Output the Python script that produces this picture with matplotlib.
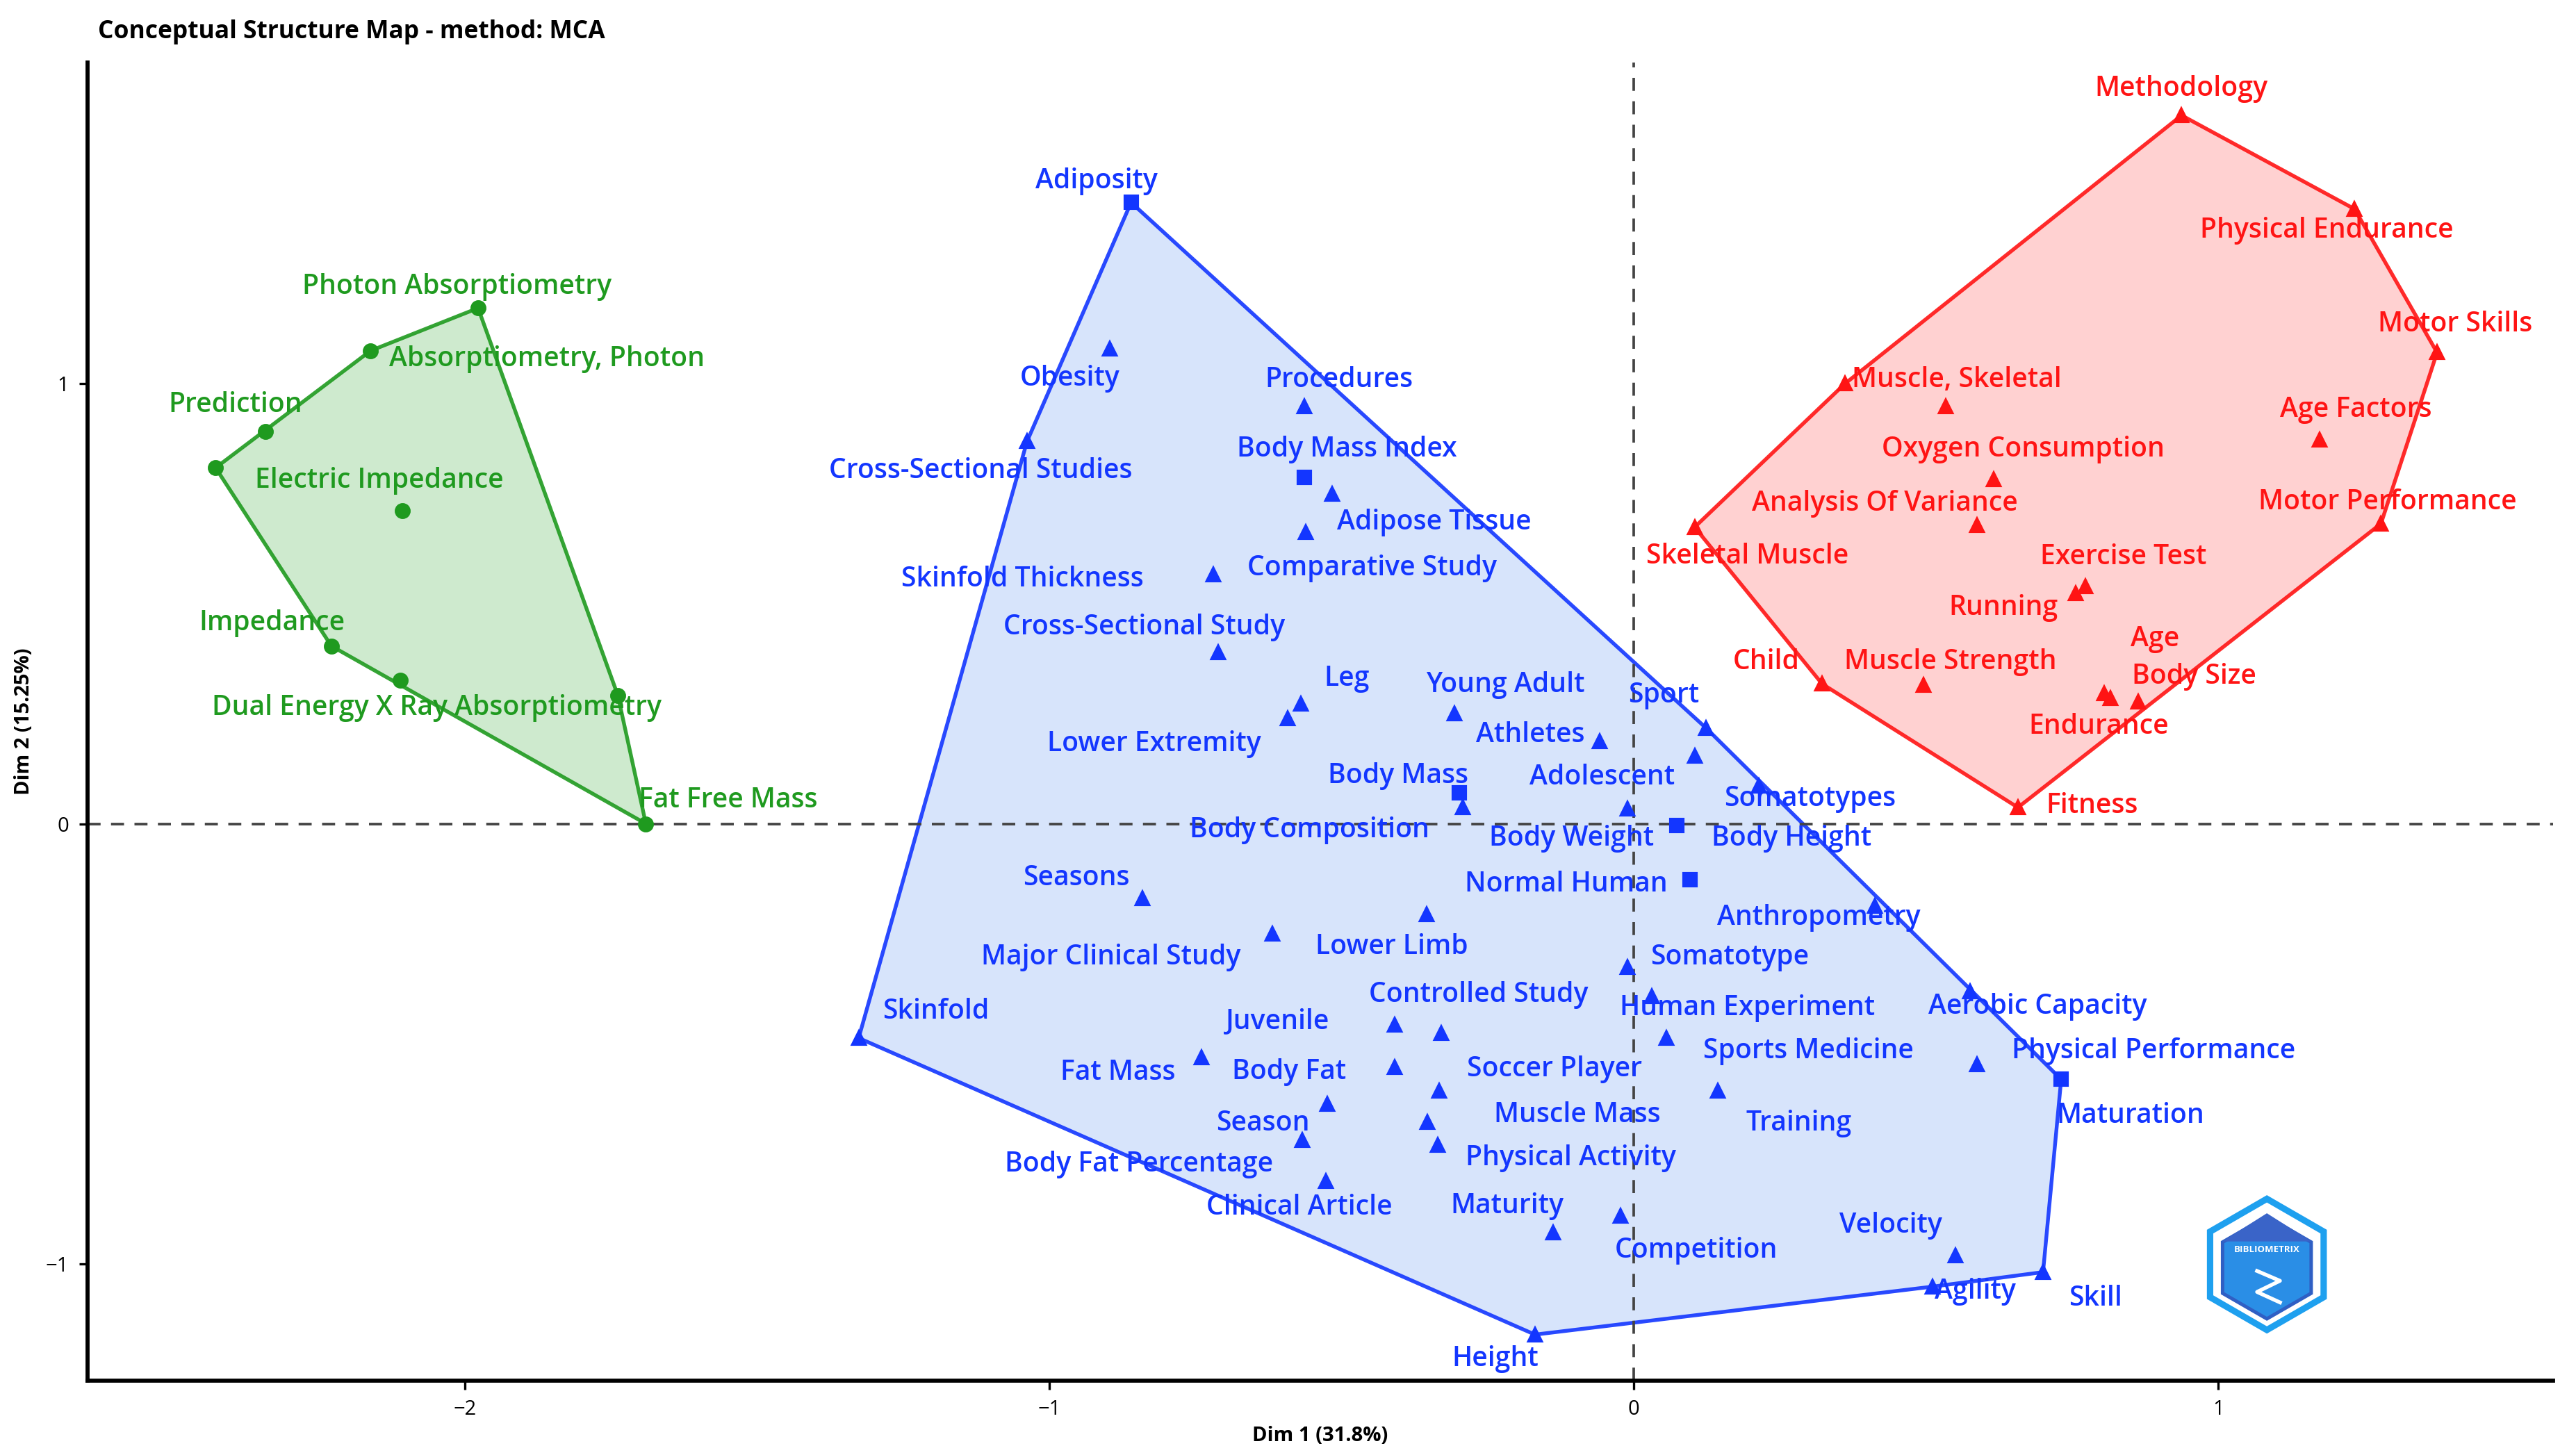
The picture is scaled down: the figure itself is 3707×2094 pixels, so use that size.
import numpy as np
import matplotlib
matplotlib.use("Agg")
from matplotlib import pyplot as plt
from matplotlib.patches import Polygon, RegularPolygon

plt.rcParams['font.family'] = ['Open Sans', 'DejaVu Sans']

# cluster 1 (green)
green_words = ["Photon Absorptiometry", "Absorptiometry, Photon", "Prediction", "",
               "Electric Impedance", "Impedance", "Dual Energy X Ray Absorptiometry", "",
               "Fat Free Mass"]
green_x = [-1.977, -2.161, -2.341, -2.426, -2.107, -2.228, -2.110, -1.738, -1.690]
green_y = [1.172, 1.075, 0.891, 0.809, 0.712, 0.404, 0.326, 0.292, 0.0]

# cluster 2 (red)
red_words = ["Methodology", "Physical Endurance", "Motor Skills", "Age Factors",
             "Motor Performance", "Muscle, Skeletal", "", "Oxygen Consumption",
             "Analysis Of Variance", "Skeletal Muscle", "Exercise Test", "Running",
             "Child", "Muscle Strength", "Age", "Body Size", "Endurance", "Fitness"]
red_x = [0.937, 1.233, 1.374, 1.173, 1.278, 0.533, 0.361, 0.615, 0.587, 0.104,
         0.773, 0.756, 0.322, 0.496, 0.804, 0.815, 0.863, 0.657]
red_y = [1.610, 1.397, 1.071, 0.873, 0.682, 0.948, 1.000, 0.783, 0.678, 0.674,
         0.539, 0.524, 0.318, 0.315, 0.296, 0.285, 0.277, 0.037]

# cluster 3 (blue)
blue_words = ["Adiposity", "Obesity", "Cross-Sectional Studies", "Procedures",
              "Body Mass Index", "Adipose Tissue", "Comparative Study",
              "Skinfold Thickness", "Cross-Sectional Study", "Leg", "Lower Extremity",
              "Young Adult", "Athletes", "Sport", "Adolescent", "Somatotypes",
              "Body Mass", "Body Composition", "Body Weight", "Body Height",
              "Normal Human", "Anthropometry", "Seasons", "Lower Limb",
              "Major Clinical Study", "Somatotype", "Skinfold", "Juvenile",
              "Controlled Study", "Human Experiment", "Sports Medicine",
              "Aerobic Capacity", "Physical Performance", "Maturation", "Fat Mass",
              "Body Fat", "Soccer Player", "Training", "Season", "Muscle Mass",
              "Body Fat Percentage", "Physical Activity", "Clinical Article",
              "Maturity", "Competition", "Velocity", "Agility", "Skill", "Height"]
blue_x = [-0.860, -0.897, -1.038, -0.564, -0.564, -0.516, -0.561, -0.719, -0.711,
          -0.570, -0.592, -0.307, -0.059, 0.124, 0.104, 0.214, -0.299, -0.293,
          -0.011, 0.073, 0.096, 0.412, -0.841, -0.355, -0.618, -0.011, -1.326,
          -0.409, -0.330, 0.031, 0.056, 0.575, 0.587, 0.731, -0.739, -0.409,
          -0.333, 0.144, -0.525, -0.353, -0.567, -0.336, -0.527, -0.138, -0.023,
          0.550, 0.511, 0.700, -0.169]
blue_y = [1.412, 1.079, 0.869, 0.948, 0.787, 0.749, 0.663, 0.566, 0.390, 0.273,
          0.240, 0.251, 0.187, 0.217, 0.154, 0.086, 0.071, 0.037, 0.034, -0.004,
          -0.127, -0.187, -0.169, -0.206, -0.251, -0.326, -0.487, -0.457, -0.476,
          -0.393, -0.487, -0.382, -0.547, -0.581, -0.532, -0.554, -0.607, -0.607,
          -0.637, -0.678, -0.719, -0.730, -0.813, -0.929, -0.891, -0.981, -1.052,
          -1.019, -1.161]
blue_square = ["Adiposity", "Body Mass Index", "Body Mass", "Body Height",
               "Normal Human", "Maturation"]

# label offsets (reference pixels, x right / y down)
green_off = [(-13, -13), (107, 5), (-18, -16), (0, 0), (-14, -18), (-36, -14),
             (22, 17), (0, 0), (50, -14)]
red_off = [(0, -16), (-17, 13), (11, -17), (22, -18), (4, -13), (7, -16), (0, 0),
           (18, -18), (-56, -13), (32, 18), (23, -18), (-44, 9), (-34, -13),
           (16, -14), (31, -33), (51, -13), (-24, 15), (45, -1)]
blue_off = [(-21, -13), (-24, 18), (-28, 18), (21, -16), (26, -17), (62, 17),
            (40, 22), (-116, 3), (-45, -15), (28, -15), (-81, 16), (31, -17),
            (-42, -4), (-26, -20), (-56, 13), (31, 8), (-37, -10), (-93, 14),
            (-34, 18), (70, 8), (-75, 3), (-34, 7), (-40, -12), (-21, 20),
            (-98, 14), (62, -6), (47, -16), (-71, -2), (23, -23), (58, 7),
            (86, 8), (41, 9), (107, -8), (42, 22), (-51, 9), (-64, 3), (70, -13),
            (49, 20), (-39, 12), (91, -4), (-99, 15), (81, 8), (-16, 16),
            (-28, -16), (46, 21), (-39, -18), (26, 3), (32, 16), (-24, 15)]

PX = 0.569  # reference pixel -> points


def convex_hull(xs, ys):
    pts = sorted(set(zip(xs, ys)))

    def cross(o, a, b):
        return (a[0] - o[0]) * (b[1] - o[1]) - (a[1] - o[1]) * (b[0] - o[0])
    lower, upper = [], []
    for p in pts:
        while len(lower) >= 2 and cross(lower[-2], lower[-1], p) <= 0:
            lower.pop()
        lower.append(p)
    for p in reversed(pts):
        while len(upper) >= 2 and cross(upper[-2], upper[-1], p) <= 0:
            upper.pop()
        upper.append(p)
    return np.array(lower[:-1] + upper[:-1])


fig = plt.figure(figsize=(3707 / 300, 2094 / 300), dpi=300)
ax = fig.add_axes([0.034, 0.051, 0.957, 0.906])

clusters = [
    (green_words, green_x, green_y, green_off, '#1f9a1f', '#c9e8c9', 'o'),
    (blue_words, blue_x, blue_y, blue_off, '#1336ff', '#d3e1fb', '^'),
    (red_words, red_x, red_y, red_off, '#ff1414', '#ffcccc', '^'),
]

for words, xs, ys, offs, col, fill, mk in clusters:
    h = convex_hull(xs, ys)
    ax.add_patch(Polygon(h, closed=True, facecolor=fill, edgecolor=col, lw=1.3,
                         alpha=0.9, zorder=1))
    for w, x, y, off in zip(words, xs, ys, offs):
        m = 's' if w in blue_square else mk
        ax.plot(x, y, marker=m, ms=4.5, color=col, ls='none', zorder=3)
        if w:
            ax.annotate(w, (x, y), xytext=(off[0] * PX, -off[1] * PX),
                        textcoords='offset points', ha='center', va='center',
                        fontsize=9.4, fontweight='semibold', color=col, zorder=4)

ax.axhline(0, color='#444444', ls=(0, (5, 4)), lw=0.9, zorder=2)
ax.axvline(0, color='#444444', ls=(0, (5, 4)), lw=0.9, zorder=2)

ax.set_xlim(-2.645, 1.572)
ax.set_ylim(-1.266, 1.730)
ax.set_xticks([-2, -1, 0, 1])
ax.set_yticks([-1, 0, 1])
ax.tick_params(labelsize=7, length=3, width=0.8)
for s in ['top', 'right']:
    ax.spines[s].set_visible(False)
for s in ['left', 'bottom']:
    ax.spines[s].set_linewidth(1.4)
ax.set_xlabel("Dim 1 (31.8%)", fontsize=7, fontweight='bold', labelpad=2)
ax.set_ylabel("Dim 2 (15.25%)", fontsize=7, fontweight='bold', labelpad=4)
fig.text(0.038, 0.978, "Conceptual Structure Map - method: MCA", fontsize=8.5,
         fontweight='bold', ha='left', va='center')

# logo
lax = fig.add_axes([0.852, 0.077, 0.056, 0.108])
lax.set_xlim(-1.1, 1.1)
lax.set_ylim(-1.1, 1.1)
lax.set_aspect('equal')
lax.axis('off')
lax.add_patch(RegularPolygon((0, 0), 6, radius=1.0, facecolor='white',
                             edgecolor='#1ea0ef', lw=2.2))
lax.add_patch(RegularPolygon((0, -0.05), 6, radius=0.78, facecolor='#2a8ee6',
                             edgecolor='#2f5fc4', lw=1.2))
lax.add_patch(Polygon([[-0.68, 0.35], [0, 0.78], [0.68, 0.35]], closed=True,
                      facecolor='#3a64c8', edgecolor='none'))
lax.text(0, 0.22, "BIBLIOMETRIX", color='white', fontsize=3.2, ha='center',
         va='center', fontweight='bold')
lax.plot([-0.15, 0.2, -0.15, 0.2], [-0.1, -0.25, -0.42, -0.58], color='white', lw=1.3)

fig.savefig("out.png", dpi=300, facecolor='white')
